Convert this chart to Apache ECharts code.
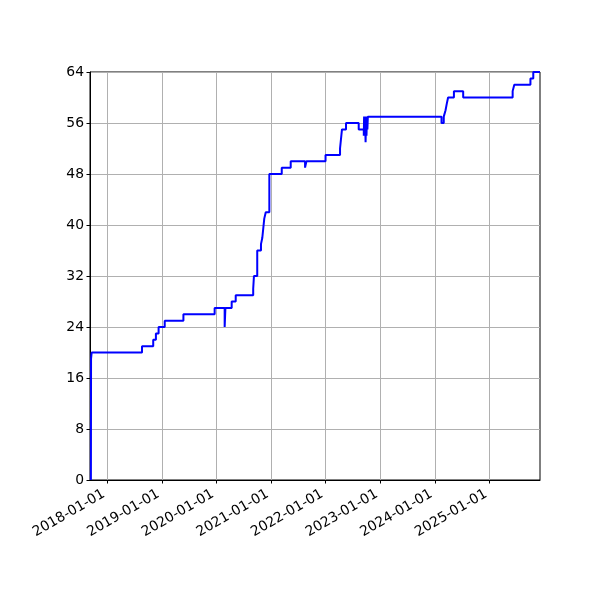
<!DOCTYPE html>
<html><head><meta charset="utf-8">
<script src="https://cdn.jsdelivr.net/npm/echarts@6/dist/echarts.min.js"></script>
<style>html,body{margin:0;padding:0;background:#fff}#c{width:600px;height:600px}</style>
</head><body><div id="c"></div>
<script>
const dates = [
  '2017-09-13','2017-09-14','2017-09-18','2018-08-21','2018-11-04','2018-11-22','2018-12-10',
  '2019-01-20','2019-05-25','2019-12-20','2020-02-25','2020-03-01','2020-04-12','2020-05-09',
  '2020-09-03','2020-09-08','2020-09-30','2020-10-25','2020-11-03','2020-11-16','2020-11-26',
  '2020-12-20','2021-03-13','2021-05-12','2021-08-16','2021-08-25','2021-12-31','2022-04-07',
  '2022-04-20','2022-05-17','2022-08-10','2022-09-13','2022-09-15','2022-09-18','2022-09-21',
  '2022-09-25','2022-09-28','2022-10-01','2022-10-04','2022-10-07','2022-10-10','2022-10-13',
  '2024-02-15','2024-03-01','2024-03-13','2024-03-21','2024-03-30','2024-05-08','2024-07-09',
  '2025-06-05','2025-06-16','2025-10-02','2025-10-21','2025-12-05'
];
const values = [
  0,19,20,21,22,23,24,
  25,26,27,24,27,28,29,
  30,32,36,37,38,41,42,
  48,49,50,49,50,51,52,
  55,56,55,54,57,54,57,
  53,57,54,57,55,57,57,
  56,57,58,59,60,61,60,
  61,62,63,64,64
];
const xTickLabels = ['2018-01-01','2019-01-01','2020-01-01','2021-01-01','2022-01-01','2023-01-01','2024-01-01','2025-01-01'];
const yTicks = [0,8,16,24,32,40,48,56,64];
const xMinDate = '2017-09-07';
const xMaxDate = '2025-12-05';

const ts = s => Date.parse(s + 'T00:00:00Z');
const xTickValues = xTickLabels.map(ts);
const labelOf = {};
xTickLabels.forEach((s, i) => { labelOf[xTickValues[i]] = s; });

// explicit step-post corner points built from the arrays
const stepData = [];
dates.forEach((d, i) => {
  const t = ts(d);
  if (i > 0) stepData.push([t, values[i - 1]]);
  stepData.push([t, values[i]]);
});

const chart = echarts.init(document.getElementById('c'), null, {renderer: 'canvas'});
const font = 'DejaVu Sans';
chart.setOption({
  animation: false,
  backgroundColor: '#fff',
  grid: {left: 90, right: 60, top: 72, bottom: 120, show: true, borderColor: '#000', borderWidth: 1, backgroundColor: 'transparent'},
  xAxis: {
    type: 'value',
    min: ts(xMinDate), max: ts(xMaxDate),
    axisLine: {show: true, lineStyle: {color: '#000', width: 1}},
    axisTick: {show: true, customValues: xTickValues, length: 3.5, lineStyle: {color: '#000', width: 1}},
    axisLabel: {customValues: xTickValues, rotate: 30, margin: 11, padding: [0, 4, 0, 0], fontFamily: font, fontSize: 13.9, color: '#000',
      formatter: v => labelOf[v] || ''},
    splitLine: {show: true, customValues: xTickValues, lineStyle: {color: '#b0b0b0', width: 1}}
  },
  yAxis: {
    type: 'value', min: yTicks[0], max: yTicks[yTicks.length - 1], interval: yTicks[1] - yTicks[0],
    axisLine: {show: true, lineStyle: {color: '#000', width: 1}},
    axisTick: {show: true, length: 3.5, lineStyle: {color: '#000', width: 1}},
    axisLabel: {margin: 6, fontFamily: font, fontSize: 13.9, color: '#000'},
    splitLine: {show: true, lineStyle: {color: '#b0b0b0', width: 1}}
  },
  series: [{
    type: 'line', showSymbol: false, clip: true,
    lineStyle: {color: '#0000ff', width: 2},
    data: stepData
  }]
});
</script></body></html>
